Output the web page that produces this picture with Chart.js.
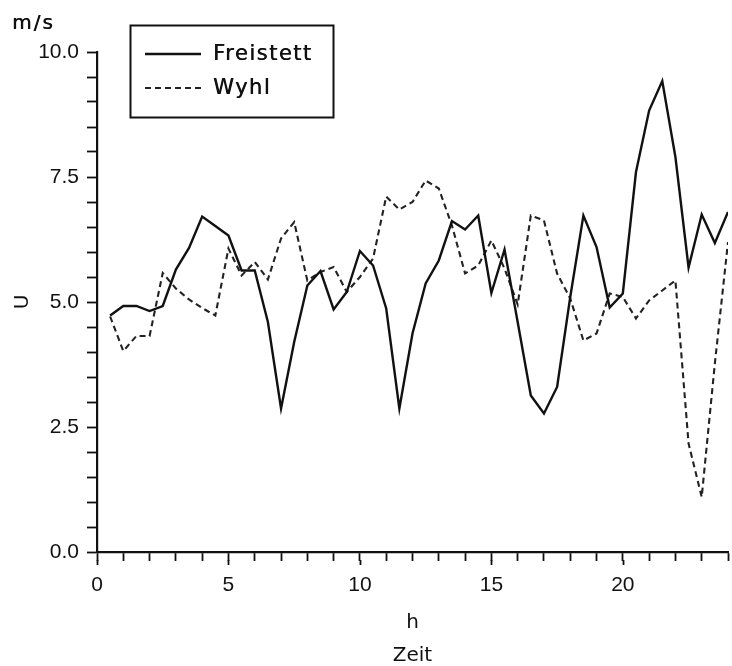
<!DOCTYPE html>
<html>
<head>
<meta charset="utf-8">
<script src="https://cdn.jsdelivr.net/npm/chart.js@4/dist/chart.umd.min.js"></script>
<style>
	html, body { margin: 0; padding: 0; background: #fff; overflow: hidden; }
	#wrap { width: 740px; height: 672px; }
</style>
</head>
<body>
<div id="wrap"><canvas id="chart" width="740" height="672"></canvas></div>
<script>
// half-hourly wind speed, m/s
const hours = [
	0.5, 1, 1.5, 2, 2.5, 3, 3.5, 4, 4.5, 5, 5.5, 6,
	6.5, 7, 7.5, 8, 8.5, 9, 9.5, 10, 10.5, 11, 11.5, 12,
	12.5, 13, 13.5, 14, 14.5, 15, 15.5, 16, 16.5, 17, 17.5, 18,
	18.5, 19, 19.5, 20, 20.5, 21, 21.5, 22, 22.5, 23, 23.5, 24,
];
const freistett = [
	4.73, 4.92, 4.92, 4.82, 4.92, 5.65, 6.08, 6.71, 6.52, 6.33, 5.63, 5.63,
	4.6, 2.87, 4.2, 5.33, 5.62, 4.85, 5.2, 6.02, 5.73, 4.87, 2.87, 4.37,
	5.37, 5.83, 6.62, 6.45, 6.73, 5.18, 6.05, 4.6, 3.13, 2.77, 3.3, 5.1,
	6.73, 6.1, 4.89, 5.17, 7.6, 8.83, 9.42, 7.9, 5.69, 6.75, 6.18, 6.8,
];
const wyhl = [
	4.71, 4.02, 4.32, 4.32, 5.58, 5.27, 5.05, 4.88, 4.73, 6.07, 5.53, 5.8,
	5.45, 6.27, 6.6, 5.43, 5.6, 5.7, 5.2, 5.5, 5.87, 7.11, 6.85, 7.0,
	7.43, 7.27, 6.53, 5.57, 5.73, 6.23, 5.67, 4.95, 6.73, 6.63, 5.57, 5.07,
	4.23, 4.37, 5.17, 5.1, 4.67, 5.03, 5.23, 5.43, 2.17, 1.1, 3.77, 6.2,
];
const yTickLabels = ['0.0', '2.5', '5.0', '7.5', '10.0'];
const xTickLabels = ['0', '5', '10', '15', '20'];

const ink = '#111';
const tickFont = { family: 'Liberation Sans', size: 21 };
const textFont = { family: 'DejaVu Sans', size: 20 };

const toPoints = (values) => values.map((v, i) => ({ x: hours[i], y: v }));

// boxed legend in the upper left of the plot
const boxLegend = {
	id: 'boxLegend',
	afterDraw(chart) {
		const ctx = chart.ctx;
		ctx.save();
		ctx.strokeStyle = ink;
		ctx.lineWidth = 2;
		ctx.strokeRect(130.5, 25.5, 203, 92);
		ctx.font = '21px "DejaVu Sans"';
		ctx.letterSpacing = '1.5px';
		ctx.fillStyle = ink;
		ctx.textBaseline = 'middle';
		chart.data.datasets.forEach((ds, i) => {
			const y = 54 + i * 34;
			ctx.beginPath();
			ctx.setLineDash(ds.borderDash || []);
			ctx.lineWidth = ds.borderWidth;
			ctx.strokeStyle = ds.borderColor;
			ctx.moveTo(145, y);
			ctx.lineTo(201, y);
			ctx.stroke();
			ctx.fillText(ds.label, 213, y + 1);
			// second pass thickens the strokes a little
			ctx.fillText(ds.label, 213.5, y + 1);
		});
		ctx.restore();
	},
};

// unit label above the y axis, longer marks at labelled hours
const axisExtras = {
	id: 'axisExtras',
	afterDraw(chart) {
		const ctx = chart.ctx;
		const x = chart.scales.x;
		const bottom = chart.chartArea.bottom;
		ctx.save();
		ctx.fillStyle = ink;
		ctx.font = '20px "DejaVu Sans"';
		ctx.letterSpacing = '2px';
		ctx.textBaseline = 'middle';
		ctx.fillText('m/s', 12, 24);
		ctx.fillText('m/s', 12.5, 24);
		ctx.strokeStyle = ink;
		ctx.lineWidth = 1.8;
		x.ticks.forEach((t) => {
			if (t.value % 5 !== 0) return;
			const px = Math.round(x.getPixelForValue(t.value)) + 0.5;
			ctx.beginPath();
			ctx.moveTo(px, bottom + 8);
			ctx.lineTo(px, bottom + 13);
			ctx.stroke();
		});
		ctx.restore();
	},
};

new Chart(document.getElementById('chart'), {
	type: 'line',
	data: {
		datasets: [
			{
				label: 'Freistett',
				data: toPoints(freistett),
				borderColor: ink,
				borderWidth: 2.4,
				pointRadius: 0,
				tension: 0,
			},
			{
				label: 'Wyhl',
				data: toPoints(wyhl),
				borderColor: '#222',
				borderWidth: 2.1,
				borderDash: [6, 4],
				pointRadius: 0,
				tension: 0,
			},
		],
	},
	options: {
		responsive: false,
		animation: false,
		layout: { padding: { top: 52, right: 4, bottom: 0, left: 0 } },
		plugins: {
			legend: { display: false },
			tooltip: { enabled: false },
		},
		scales: {
			x: {
				type: 'linear',
				min: 0,
				max: 24,
				afterFit: (scale) => { scale.height = 120; },
				border: { display: true, color: ink, width: 2.2 },
				grid: { drawOnChartArea: false, drawTicks: true, tickLength: 9, tickColor: ink, tickWidth: 1.8 },
				ticks: {
					stepSize: 1,
					autoSkip: false,
					maxRotation: 0,
					padding: 12,
					color: ink,
					font: tickFont,
					callback: (v) => (xTickLabels.includes(String(v)) ? String(v) : ''),
				},
				title: {
					display: true,
					text: ['h', 'Zeit'],
					color: ink,
					font: { ...textFont, lineHeight: 1.65 },
					padding: { top: 0, bottom: 0 },
				},
			},
			y: {
				type: 'linear',
				min: 0,
				max: 10,
				afterFit: (scale) => { scale.width = 97; },
				border: { display: true, color: ink, width: 2.2 },
				grid: { drawOnChartArea: false, drawTicks: true, tickLength: 10, tickColor: ink, tickWidth: 1.8 },
				ticks: {
					stepSize: 0.5,
					autoSkip: false,
					padding: 8,
					color: ink,
					font: tickFont,
					callback: (v) => {
						const s = v.toFixed(1);
						return yTickLabels.includes(s) ? s : '';
					},
				},
				title: {
					display: true,
					text: 'U',
					color: ink,
					font: textFont,
					padding: { top: 11, bottom: 0 },
				},
			},
		},
	},
	plugins: [boxLegend, axisExtras],
});
</script>
</body>
</html>
